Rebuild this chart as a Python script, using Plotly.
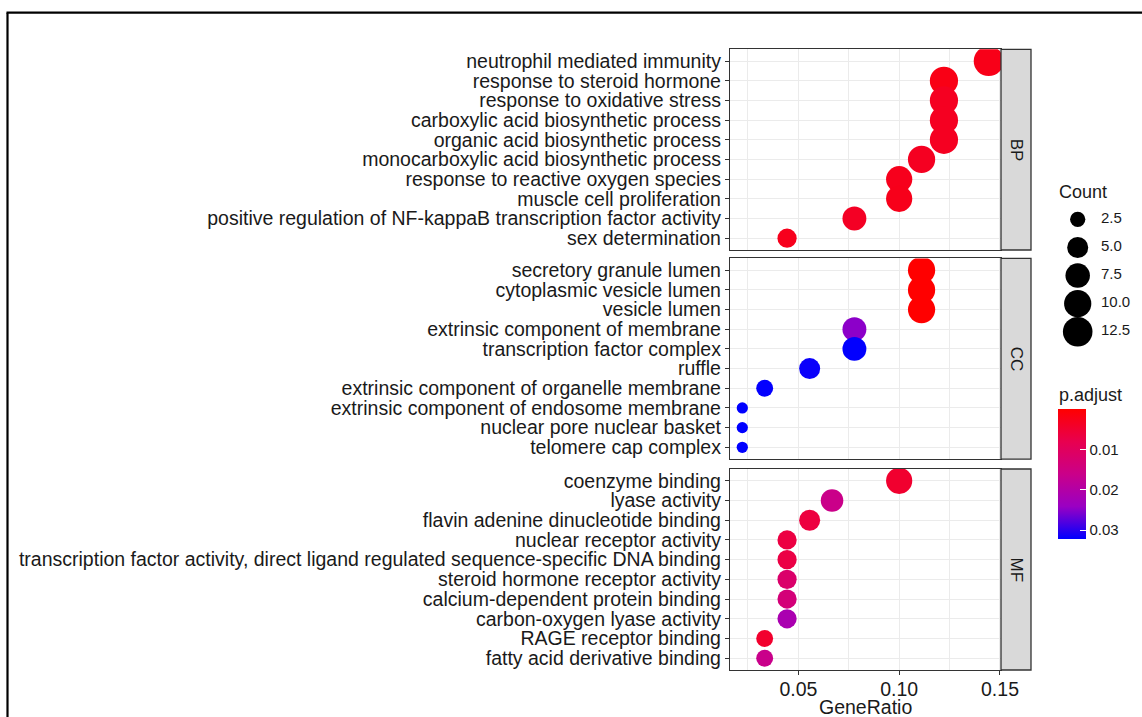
import math
import plotly.graph_objects as go

W, H = 1142, 717

# ---------------- data ----------------
bp_terms = ["neutrophil mediated immunity", "response to steroid hormone",
            "response to oxidative stress", "carboxylic acid biosynthetic process",
            "organic acid biosynthetic process", "monocarboxylic acid biosynthetic process",
            "response to reactive oxygen species", "muscle cell proliferation",
            "positive regulation of NF-kappaB transcription factor activity",
            "sex determination"]
bp_ratio = [0.1444, 0.1222, 0.1222, 0.1222, 0.1222, 0.1111, 0.1000, 0.1000, 0.0778, 0.0444]
bp_count = [13, 11, 11, 11, 11, 10, 9, 9, 7, 4]
bp_padj = [0.0025, 0.0022, 0.0035, 0.0035, 0.0035, 0.0035, 0.0030, 0.0028, 0.0038, 0.0030]

cc_terms = ["secretory granule lumen", "cytoplasmic vesicle lumen", "vesicle lumen",
            "extrinsic component of membrane", "transcription factor complex", "ruffle",
            "extrinsic component of organelle membrane",
            "extrinsic component of endosome membrane", "nuclear pore nuclear basket",
            "telomere cap complex"]
cc_ratio = [0.1111, 0.1111, 0.1111, 0.0778, 0.0778, 0.0556, 0.0333, 0.0222, 0.0222, 0.0222]
cc_count = [10, 10, 10, 7, 7, 5, 3, 2, 2, 2]
cc_padj = [0.0001, 0.0001, 0.0001, 0.0250, 0.0322, 0.0318, 0.0321, 0.0323, 0.0323, 0.0323]

mf_terms = ["coenzyme binding", "lyase activity", "flavin adenine dinucleotide binding",
            "nuclear receptor activity",
            "transcription factor activity, direct ligand regulated sequence-specific DNA binding",
            "steroid hormone receptor activity", "calcium-dependent protein binding",
            "carbon-oxygen lyase activity", "RAGE receptor binding",
            "fatty acid derivative binding"]
mf_ratio = [0.1000, 0.0667, 0.0556, 0.0444, 0.0444, 0.0444, 0.0444, 0.0444, 0.0333, 0.0333]
mf_count = [9, 6, 5, 4, 4, 4, 4, 4, 3, 3]
mf_padj = [0.0049, 0.0162, 0.0065, 0.0068, 0.0071, 0.0119, 0.0138, 0.0216, 0.0048, 0.0164]

facets = ["BP", "CC", "MF"]
x_ticks = [0.05, 0.10, 0.15]
x_minor = [0.025, 0.075, 0.125]
size_breaks = [2.5, 5.0, 7.5, 10.0, 12.5]
color_breaks = [0.01, 0.02, 0.03]

panels = [(bp_terms, bp_ratio, bp_count, bp_padj),
          (cc_terms, cc_ratio, cc_count, cc_padj),
          (mf_terms, mf_ratio, mf_count, mf_padj)]

all_counts = bp_count + cc_count + mf_count
all_padj = bp_padj + cc_padj + mf_padj
cmin_c, cmax_c = min(all_counts), max(all_counts)
pmin, pmax = min(all_padj), max(all_padj)


def size_px(v):
    # ggplot area scale, range 3..8
    return 3.75 * (3 + 5 * math.sqrt(max(v - cmin_c, 0) / (cmax_c - cmin_c)))


FONT = "Liberation Sans, Arial, sans-serif"
TXT = "#1A1A1A"
AX_FS = 19.5

# colour scale approximating ggplot's Lab interpolation red (low p) -> blue (high p)
colorscale = [[0.0, "rgb(0,0,255)"], [0.25, "rgb(154,0,195)"], [0.5, "rgb(202,0,137)"],
              [0.75, "rgb(232,0,79)"], [1.0, "rgb(255,0,0)"]]

# ---------------- geometry (pixels) ----------------
px_x = lambda p: p / W
px_y = lambda p: (H - p) / H
panel_x0, panel_x1 = 730, 1001
strip_x1 = 1031
panel_y = [(49.3, 250.0), (258.4, 459.1), (469.0, 670.0)]

fig = go.Figure()
layout = dict(
    width=W, height=H, margin=dict(l=0, r=0, t=0, b=0),
    paper_bgcolor="white", plot_bgcolor="white", showlegend=False,
    font=dict(family=FONT, color=TXT, size=19),
    coloraxis=dict(
        cmin=-pmax, cmax=-pmin, colorscale=colorscale,
        colorbar=dict(
            thickness=28, lenmode="pixels", len=130,
            x=px_x(1058.3), xanchor="left", y=px_y(474.3), yanchor="middle",
            xpad=0, ypad=0, outlinewidth=0,
            tickmode="array", tickvals=[-v for v in color_breaks],
            ticktext=[f"{v:.2f}" for v in color_breaks],
            ticks="inside", ticklen=6, tickcolor="white", tickwidth=1.2,
            tickfont=dict(size=15, color=TXT, family=FONT),
        ),
    ),
)

shapes = []
annotations = []
for i, (terms, ratio, count, padj) in enumerate(panels):
    k = "" if i == 0 else str(i + 1)
    y0, y1 = panel_y[i]
    fig.add_trace(go.Scatter(
        x=ratio, y=terms, mode="markers",
        xaxis="x" + k, yaxis="y" + k,
        marker=dict(size=[size_px(c) for c in count], color=[-p for p in padj],
                    coloraxis="coloraxis", line=dict(width=0), opacity=1),
        cliponaxis=True, hoverinfo="x+y",
    ))
    last = (i == 2)
    layout["xaxis" + k] = dict(
        domain=[px_x(panel_x0), px_x(panel_x1)], anchor="y" + k,
        range=[0.0161, 0.1505], tickmode="array", tickvals=x_ticks,
        ticktext=[f"{v:.2f}" for v in x_ticks],
        showticklabels=last, ticks="outside" if last else "", ticklen=4,
        tickcolor="#333333", tickwidth=1.1,
        tickfont=dict(size=AX_FS, color="#1A1A1A"),
        showgrid=True, gridcolor="#EBEBEB", gridwidth=1.1,
        minor=dict(tickmode="array", tickvals=x_minor, showgrid=True,
                   gridcolor="#EBEBEB", gridwidth=1.1, ticks=""),
        zeroline=False, showline=True, mirror=True, linecolor="#333333", linewidth=1.3,
        automargin=False,
    )
    if last:
        layout["xaxis" + k]["ticklabelstandoff"] = -3
    if i > 0:
        layout["xaxis" + k]["matches"] = "x"
    layout["yaxis" + k] = dict(
        domain=[px_y(y1), px_y(y0)], anchor="x" + k,
        type="category", categoryorder="array", categoryarray=list(reversed(terms)),
        tickmode="array", tickvals=terms, ticktext=terms,
        range=[-0.6, len(terms) - 0.4],
        ticks="outside", ticklen=4, tickcolor="#333333", tickwidth=1.1,
        tickfont=dict(size=AX_FS, color="#1A1A1A"),
        showgrid=True, gridcolor="#EBEBEB", gridwidth=1.1,
        zeroline=False, showline=True, mirror=True, linecolor="#333333", linewidth=1.3,
        automargin=False,
    )
    # strip
    shapes.append(dict(type="rect", xref="paper", yref="paper",
                       x0=px_x(panel_x1), x1=px_x(strip_x1), y0=px_y(y1), y1=px_y(y0),
                       fillcolor="#D9D9D9", line=dict(color="#333333", width=1.3), layer="above"))
    annotations.append(dict(xref="paper", yref="paper", x=px_x((panel_x1 + strip_x1) / 2),
                            y=px_y((y0 + y1) / 2), text=facets[i], showarrow=False,
                            textangle=90, font=dict(size=17, color=TXT),
                            xanchor="center", yanchor="middle"))

# x-axis title
annotations.append(dict(xref="paper", yref="paper", x=px_x((panel_x0 + panel_x1) / 2),
                        y=px_y(706.5), text="GeneRatio", showarrow=False,
                        xanchor="center", yanchor="middle", font=dict(size=AX_FS, color=TXT)))

# ---------------- size legend (own small axis) ----------------
leg_y0, leg_y1 = 205.3, 345.8
layout["xaxis4"] = dict(domain=[px_x(1058), 1.0], anchor="y4", range=[0, 84],
                        visible=False, fixedrange=True)
layout["yaxis4"] = dict(domain=[px_y(leg_y1), px_y(leg_y0)], anchor="x4",
                        range=[len(size_breaks) - 0.5, -0.5], visible=False, fixedrange=True)
fig.add_trace(go.Scatter(
    x=[19.7] * len(size_breaks), y=list(range(len(size_breaks))), mode="markers",
    xaxis="x4", yaxis="y4", hoverinfo="skip", cliponaxis=False,
    marker=dict(size=[size_px(v) for v in size_breaks], color="#000000",
                opacity=1, line=dict(width=0)),
))
fig.add_trace(go.Scatter(
    x=[43] * len(size_breaks), y=list(range(len(size_breaks))), mode="text",
    xaxis="x4", yaxis="y4", hoverinfo="skip", cliponaxis=False,
    text=[f"{v:.1f}" for v in size_breaks], textposition="middle right",
    textfont=dict(size=15, color=TXT, family=FONT),
))

annotations.append(dict(xref="paper", yref="paper", x=px_x(1057), y=px_y(191.7), text="Count",
                        showarrow=False, xanchor="left", yanchor="middle",
                        font=dict(size=18, color=TXT)))
annotations.append(dict(xref="paper", yref="paper", x=px_x(1057), y=px_y(395), text="p.adjust",
                        showarrow=False, xanchor="left", yanchor="middle",
                        font=dict(size=18, color=TXT)))

# outer frame (top and left edges visible)
shapes.append(dict(type="line", xref="paper", yref="paper", x0=px_x(6.5), x1=1.05,
                   y0=px_y(12.7), y1=px_y(12.7), line=dict(color="black", width=2.2)))
shapes.append(dict(type="line", xref="paper", yref="paper", x0=px_x(7.5), x1=px_x(7.5),
                   y0=px_y(12.7), y1=-0.05, line=dict(color="black", width=2.2)))

layout["shapes"] = shapes
layout["annotations"] = annotations
fig.update_layout(**layout)
fig.write_html("out.html", config={"displayModeBar": False},
               post_script="document.body.style.margin='0px';document.body.style.padding='0px';"
                           "document.body.style.overflow='hidden';")
